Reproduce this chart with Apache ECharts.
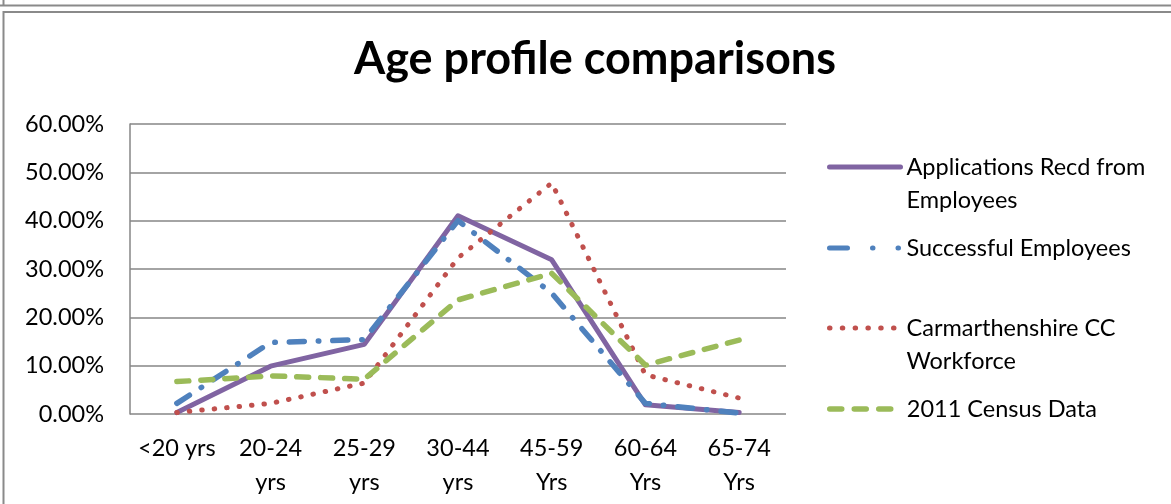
<!DOCTYPE html>
<html><head><meta charset="utf-8">
<script src="https://cdn.jsdelivr.net/npm/echarts@6/dist/echarts.min.js"></script>
<style>html,body{margin:0;padding:0;background:#fff}#c{width:1171px;height:504px}</style>
</head><body><div id="c"></div>
<script>
var categories = ['<20 yrs', '20-24\nyrs', '25-29\nyrs', '30-44\nyrs', '45-59\nYrs', '60-64\nYrs', '65-74\nYrs'];
var applications = [0.3, 9.9, 14.4, 41.0, 31.9, 1.9, 0.3];
var successful = [2.2, 14.8, 15.4, 40.0, 25.0, 2.2, 0.2];
var workforce = [0.3, 2.2, 6.4, 32.3, 47.8, 8.1, 3.3];
var census = [6.7, 7.9, 7.2, 23.6, 29.1, 10.1, 15.3];
var seriesNames = ['Applications Recd from Employees', 'Successful Employees', 'Carmarthenshire CC Workforce', '2011 Census Data'];
var legendLabels = ['Applications Recd from\nEmployees', 'Successful Employees', 'Carmarthenshire CC\nWorkforce', '2011 Census Data'];

var FONT = 'Lato';
var FS = 23.5;
var chart = echarts.init(document.getElementById('c'), null, {renderer: 'canvas'});
function legendFor(i, top, twoLine, dash, width) {
  return {
    show: true, orient: 'vertical', left: 827, top: top,
    itemWidth: 71, itemHeight: 14, padding: 0,
    data: [seriesNames[i]],
    formatter: function () { return twoLine ? '\n' + legendLabels[i] : legendLabels[i]; },
    itemStyle: {opacity: 0},
    lineStyle: {width: width, type: dash, cap: 'round'},
    textStyle: {fontFamily: FONT, fontSize: FS, color: '#000', lineHeight: 33, padding: [0, 0, 0, 1]}
  };
}
function mk(i, data, color, width, dash) {
  return {
    name: seriesNames[i], type: 'line', data: data, symbol: 'none', showSymbol: false,
    lineStyle: {color: color, width: width, type: dash, cap: 'round', join: 'round'},
    itemStyle: {color: color}, animation: false
  };
}
chart.setOption({
  animation: false,
  title: {text: 'Age profile comparisons', left: 354, top: 36.5, padding: 0,
    textStyle: {fontFamily: FONT, fontWeight: 'bold', fontSize: 45, color: '#000'}},
  grid: {left: 130, right: 385, top: 124, bottom: 90, containLabel: false},
  legend: [
    legendFor(0, 117.5, true, 'solid', 5),
    legendFor(1, 231.5, false, [18, 25, 0.5, 25, 0.5, 30], 5),
    legendFor(2, 278.5, true, [0.5, 12.3], 5),
    legendFor(3, 392.5, false, [12, 12.5], 5.5)
  ],
  xAxis: {type: 'category', data: categories, boundaryGap: true,
    axisLine: {show: false}, axisTick: {show: false},
    axisLabel: {fontFamily: FONT, fontSize: FS, color: '#000', lineHeight: 34, margin: 17, interval: 0}},
  yAxis: {type: 'value', min: 0, max: 60, interval: 10,
    axisLine: {show: true, lineStyle: {color: '#868686', width: 1.5}},
    axisTick: {show: false},
    splitLine: {lineStyle: {color: '#868686', width: 1.5}},
    axisLabel: {fontFamily: FONT, fontSize: FS, color: '#000', margin: 26,
      formatter: function (v) { return v.toFixed(2) + '%'; }}},
  series: [
    mk(0, applications, '#8064A2', 5, 'solid'),
    mk(1, successful, '#4F81BD', 5.5, [15, 14, 0.5, 14]),
    mk(2, workforce, '#C0504D', 5, [0.5, 12]),
    mk(3, census, '#9BBB59', 5.5, [12, 12])
  ],
  graphic: [
    {type: 'line', shape: {x1: 0, y1: 5.5, x2: 1171, y2: 5.5}, style: {stroke: '#8a8a8a', lineWidth: 2}},
    {type: 'line', shape: {x1: 3.5, y1: 0, x2: 3.5, y2: 5.5}, style: {stroke: '#8a8a8a', lineWidth: 2}},
    {type: 'rect', shape: {x: 3.5, y: 12, width: 1200, height: 600}, style: {fill: 'none', stroke: '#8a8a8a', lineWidth: 2}}
  ]
});
</script></body></html>
